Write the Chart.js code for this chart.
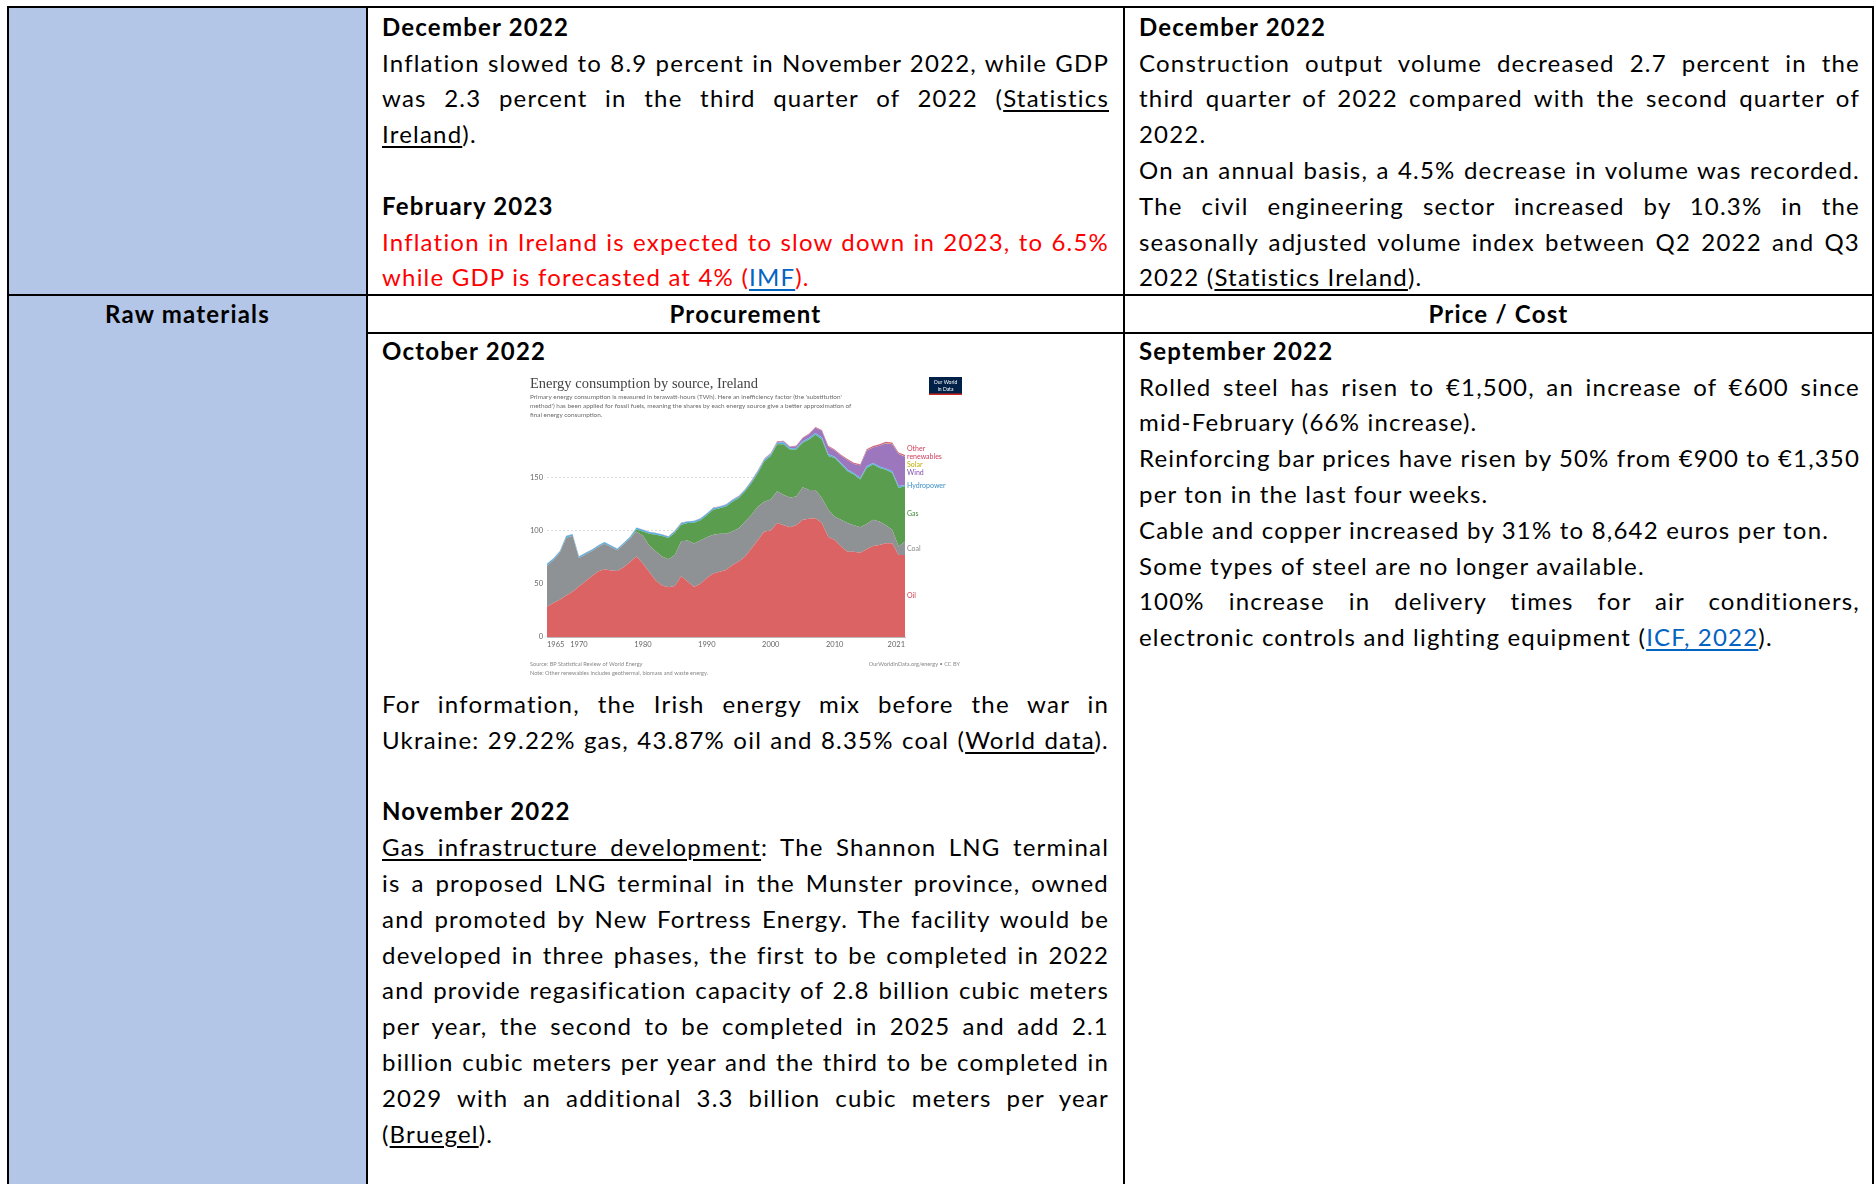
<!DOCTYPE html>
<html>
<head>
<meta charset="utf-8">
<script src="https://cdn.jsdelivr.net/npm/chart.js@4.4.0/dist/chart.umd.min.js"></script>
<style>
  body { margin: 0; width: 1876px; height: 1184px; overflow: hidden; background: #fff; font-family: Lato, 'Noto Sans', sans-serif; }
  .rule { position: absolute; background: #000; }
  .shade { position: absolute; background: #B4C6E7; }
  .block { position: absolute; font-size: 24px; line-height: 35.8px; letter-spacing: 1.2px; color: #000; }
  .ln { white-space: nowrap; height: 35.8px; }
  .c { text-align: center; }
  .b { font-weight: 700; }
  .u { text-decoration: underline; text-underline-offset: 3px; text-decoration-thickness: 1.5px; }
  .red { color: #FF0000; }
  .lk { color: #0563C1; text-decoration: underline; text-underline-offset: 3px; text-decoration-thickness: 1.5px; }
  #energy { position: absolute; left: 525px; top: 370px; }
</style>
</head>
<body>

<div class="shade" style="left:9px; top:8px; width:357px; height:1176px;"></div>

<!-- table rules -->
<div class="rule" style="left:7px; top:6px; width:1867px; height:2px;"></div>
<div class="rule" style="left:7px; top:6px; width:2px; height:1178px;"></div>
<div class="rule" style="left:366px; top:6px; width:2px; height:1178px;"></div>
<div class="rule" style="left:1123px; top:6px; width:2px; height:1178px;"></div>
<div class="rule" style="left:1872px; top:6px; width:2px; height:1178px;"></div>
<div class="rule" style="left:7px; top:294px; width:1867px; height:2px;"></div>
<div class="rule" style="left:366px; top:332px; width:1508px; height:2px;"></div>

<!-- row 1 -->
<div class="block" style="left:382px; top:8.8px; width:727px;">
  <div class="ln b"><span>December 2022</span></div>
  <div class="ln j"><span>Inflation slowed to 8.9 percent in November 2022, while GDP</span></div>
  <div class="ln j"><span>was 2.3 percent in the third quarter of 2022 (<span class="u">Statistics</span></span></div>
  <div class="ln"><span><span class="u">Ireland</span>).</span></div>
  <div class="ln"><span></span></div>
  <div class="ln b"><span>February 2023</span></div>
  <div class="ln j red"><span>Inflation in Ireland is expected to slow down in 2023, to 6.5%</span></div>
  <div class="ln red"><span>while GDP is forecasted at 4% (<span class="lk">IMF</span>).</span></div>
</div>

<div class="block" style="left:1139px; top:8.8px; width:721px;">
  <div class="ln b"><span>December 2022</span></div>
  <div class="ln j"><span>Construction output volume decreased 2.7 percent in the</span></div>
  <div class="ln j"><span>third quarter of 2022 compared with the second quarter of</span></div>
  <div class="ln"><span>2022.</span></div>
  <div class="ln j"><span>On an annual basis, a 4.5% decrease in volume was recorded.</span></div>
  <div class="ln j"><span>The civil engineering sector increased by 10.3% in the</span></div>
  <div class="ln j"><span>seasonally adjusted volume index between Q2 2022 and Q3</span></div>
  <div class="ln"><span>2022 (<span class="u">Statistics Ireland</span>).</span></div>
</div>

<!-- header row -->
<div class="block c b" style="left:9px; top:296.1px; width:357px;"><div class="ln"><span>Raw materials</span></div></div>
<div class="block c b" style="left:368px; top:296.1px; width:755px;"><div class="ln"><span>Procurement</span></div></div>
<div class="block c b" style="left:1125px; top:296.1px; width:747px;"><div class="ln"><span>Price / Cost</span></div></div>

<!-- row 3 -->
<div class="block" style="left:382px; top:332.8px; width:727px;">
  <div class="ln b"><span>October 2022</span></div>
  <div style="height:317.5px;"></div>
  <div class="ln j"><span>For information, the Irish energy mix before the war in</span></div>
  <div class="ln j"><span>Ukraine: 29.22% gas, 43.87% oil and 8.35% coal (<span class="u">World data</span>).</span></div>
  <div class="ln"><span></span></div>
  <div class="ln b"><span>November 2022</span></div>
  <div class="ln j"><span><span class="u">Gas infrastructure development</span>: The Shannon LNG terminal</span></div>
  <div class="ln j"><span>is a proposed LNG terminal in the Munster province, owned</span></div>
  <div class="ln j"><span>and promoted by New Fortress Energy. The facility would be</span></div>
  <div class="ln j"><span>developed in three phases, the first to be completed in 2022</span></div>
  <div class="ln j"><span>and provide regasification capacity of 2.8 billion cubic meters</span></div>
  <div class="ln j"><span>per year, the second to be completed in 2025 and add 2.1</span></div>
  <div class="ln j"><span>billion cubic meters per year and the third to be completed in</span></div>
  <div class="ln j"><span>2029 with an additional 3.3 billion cubic meters per year</span></div>
  <div class="ln"><span>(<span class="u">Bruegel</span>).</span></div>
</div>

<div class="block" style="left:1139px; top:332.8px; width:721px;">
  <div class="ln b"><span>September 2022</span></div>
  <div class="ln j"><span>Rolled steel has risen to €1,500, an increase of €600 since</span></div>
  <div class="ln"><span>mid-February (66% increase).</span></div>
  <div class="ln j"><span>Reinforcing bar prices have risen by 50% from €900 to €1,350</span></div>
  <div class="ln"><span>per ton in the last four weeks.</span></div>
  <div class="ln"><span>Cable and copper increased by 31% to 8,642 euros per ton.</span></div>
  <div class="ln"><span>Some types of steel are no longer available.</span></div>
  <div class="ln j"><span>100% increase in delivery times for air conditioners,</span></div>
  <div class="ln"><span>electronic controls and lighting equipment (<span class="lk">ICF, 2022</span>).</span></div>
</div>

<canvas id="energy" width="440" height="314"></canvas>

<script>
// Energy consumption by source, Ireland (TWh, substitution method), 1965-2021
const years = [1965, 1966, 1967, 1968, 1969, 1970, 1971, 1972, 1973, 1974,
               1975, 1976, 1977, 1978, 1979, 1980, 1981, 1982, 1983, 1984,
               1985, 1986, 1987, 1988, 1989, 1990, 1991, 1992, 1993, 1994,
               1995, 1996, 1997, 1998, 1999, 2000, 2001, 2002, 2003, 2004,
               2005, 2006, 2007, 2008, 2009, 2010, 2011, 2012, 2013, 2014,
               2015, 2016, 2017, 2018, 2019, 2020, 2021];
const oil = [28.5, 32, 35, 39, 42.5, 47.5, 52, 57, 61.5, 63.5,
             62.5, 62, 65.5, 70.5, 75.5, 69, 61, 53, 48.3, 46.7,
             48, 57, 52, 47, 50, 55.5, 59.7, 61.3, 63, 67.6,
             70.8, 75.5, 83.3, 91, 99, 100, 107, 105, 103, 105,
             110, 111, 111.6, 107, 94, 91, 85, 80, 80, 79,
             82.4, 85.5, 86.5, 88, 88, 77, 77];
const coal = [38.5, 40, 44, 54, 52.5, 26.5, 25.5, 23.5, 23, 24,
              22, 19.5, 21.5, 22, 23.5, 26, 25, 27.5, 27.2, 26.3,
              29, 33, 38.7, 40.7, 40.7, 38.2, 36.3, 35.7, 34, 31.4,
              31.2, 33, 31.5, 31.6, 28, 29, 29.8, 28.6, 28, 27,
              30.6, 27, 26.4, 23.5, 25.5, 22, 25, 27, 25, 24,
              23.6, 24.5, 22, 17, 12.6, 8, 12.6];
const gas = [0, 0, 0, 0, 0, 0, 0, 0, 0, 0,
             0, 0, 0, 0, 2, 4, 11, 15.5, 19.3, 20,
             21, 15.3, 16.3, 19.6, 19, 20.7, 23.5, 24, 25.6, 28,
             28.5, 28.3, 29.8, 31.4, 38, 41, 44.2, 47.4, 45, 44,
             41.8, 47.5, 52, 55, 50.5, 55, 52, 48.7, 47.5, 45,
             52.8, 52, 50.3, 52, 53.4, 55, 51.9];
const hydro = [1.8, 1.7, 1.6, 1.8, 1.5, 1.6, 1.4, 1.5, 1.4, 1.6,
               1.5, 1.3, 1.4, 1.6, 1.7, 1.8, 1.7, 1.6, 1.5, 1.4,
               1.6, 1.8, 1.5, 1.6, 1.5, 1.6, 1.7, 1.4, 1.6, 1.7,
               1.5, 1.6, 1.7, 1.8, 1.6, 1.7, 1.4, 1.8, 1.3, 1.5,
               1.4, 1.6, 1.5, 1.9, 1.8, 1.3, 1.4, 1.6, 1.3, 1.5,
               1.6, 1.4, 1.3, 1.3, 1.6, 1.8, 1.3];
const wind = [0, 0, 0, 0, 0, 0, 0, 0, 0, 0,
              0, 0, 0, 0, 0, 0, 0, 0, 0, 0,
              0, 0, 0, 0, 0, 0, 0, 0.05, 0.1, 0.1,
              0.2, 0.2, 0.3, 0.5, 0.6, 0.6, 0.8, 0.9, 1.0, 1.6,
              2.8, 3.2, 5.0, 6.0, 6.8, 5.8, 6.7, 8.7, 8.6, 11.6,
              14.6, 14.5, 19.5, 23.5, 25.5, 30, 26.5];
const solar = [0, 0, 0, 0, 0, 0, 0, 0, 0, 0,
               0, 0, 0, 0, 0, 0, 0, 0, 0, 0,
               0, 0, 0, 0, 0, 0, 0, 0, 0, 0,
               0, 0, 0, 0, 0, 0, 0, 0, 0, 0,
               0, 0, 0, 0, 0, 0, 0, 0, 0.01, 0.01,
               0.02, 0.03, 0.05, 0.06, 0.1, 0.15, 0.2];
const otherRenewables = [0.2, 0.2, 0.2, 0.2, 0.2, 0.2, 0.2, 0.2, 0.2, 0.2,
                         0.2, 0.2, 0.2, 0.2, 0.2, 0.2, 0.2, 0.2, 0.2, 0.2,
                         0.3, 0.3, 0.3, 0.3, 0.3, 0.3, 0.3, 0.3, 0.4, 0.4,
                         0.4, 0.4, 0.5, 0.5, 0.5, 0.5, 0.6, 0.6, 0.6, 0.7,
                         0.7, 0.8, 0.8, 0.9, 1.0, 1.0, 1.0, 1.1, 1.1, 1.2,
                         1.2, 1.3, 1.3, 1.4, 1.4, 1.3, 1.4];
const xTicks = [1965, 1970, 1980, 1990, 2000, 2010, 2021];
const yTicks = [0, 50, 100, 150];

const seriesNames = ['Oil', 'Coal', 'Gas', 'Hydropower', 'Wind', 'Solar', 'Other renewables'];
const fillColors = ['#DB6363', '#8F9295', '#5B9D4F', '#5AB0E0', '#9C77BE', '#E3CB1C', '#D4697C'];
const labelColors = ['#D6404F', '#8A8A8A', '#3F8A36', '#3D8FC6', '#7F4FAF', '#BFAE00', '#D0405E'];

function justifyLines() {
    document.querySelectorAll('.ln').forEach(function(line) {
        const inner = line.firstElementChild;
        if (!inner || !inner.textContent.length) return;
        line.style.letterSpacing = '';
        line.style.wordSpacing = '';
        const full = line.parentElement.clientWidth;
        let w = inner.getBoundingClientRect().width;
        if (w > full) {
            const base = parseFloat(getComputedStyle(line).letterSpacing) || 0;
            line.style.letterSpacing = (base + (full - w) / inner.textContent.length) + 'px';
            w = inner.getBoundingClientRect().width;
        }
        if (line.classList.contains('j')) {
            const spaces = (inner.textContent.match(/ /g) || []).length;
            if (spaces) line.style.wordSpacing = ((full - w) / spaces) + 'px';
        }
    });
}

// spread end labels: overlapping ones are grouped and centred on their natural positions
function spreadLabels(items) {
    let groups = items.slice().sort((a, b) => a.y - b.y).map(it => ({ items: [it], h: it.h }));
    const centre = g => g.items.reduce((s, it) => s + it.y, 0) / g.items.length;
    let merged = true;
    while (merged) {
        merged = false;
        for (let i = 0; i < groups.length - 1; i++) {
            const a = groups[i], b = groups[i + 1];
            if (centre(a) + a.h / 2 > centre(b) - b.h / 2) {
                groups.splice(i, 2, { items: a.items.concat(b.items), h: a.h + b.h });
                merged = true;
                break;
            }
        }
    }
    groups.forEach(function(g) {
        let top = centre(g) - g.h / 2;
        g.items.forEach(function(it) {
            it.top = top;
            top += it.h;
        });
    });
}

// Title, notes, logo and end-of-line labels drawn around the plot
const owidDecor = {
    id: 'owidDecor',
    afterDraw(chart) {
        const ctx = chart.ctx;
        const area = chart.chartArea;
        ctx.save();

        ctx.fillStyle = '#444';
        ctx.font = '14.5px "Liberation Serif", serif';
        ctx.textBaseline = 'alphabetic';
        ctx.fillText('Energy consumption by source, Ireland', 5, 18);

        ctx.fillStyle = '#6a6a6a';
        ctx.font = '6.4px Lato, sans-serif';
        ctx.fillText("Primary energy consumption is measured in terawatt-hours (TWh). Here an inefficiency factor (the 'substitution'", 5, 29, 375);
        ctx.fillText("method') has been applied for fossil fuels, meaning the shares by each energy source give a better approximation of", 5, 38, 388);
        ctx.fillText('final energy consumption.', 5, 47);

        // logo
        ctx.fillStyle = '#002147';
        ctx.fillRect(404, 7, 33, 18);
        ctx.fillStyle = '#CE261E';
        ctx.fillRect(404, 23.5, 33, 1.5);
        ctx.fillStyle = '#fff';
        ctx.font = '5px Lato, sans-serif';
        ctx.textAlign = 'center';
        ctx.fillText('Our World', 420.5, 14);
        ctx.fillText('in Data', 420.5, 20.5);

        // footer
        ctx.textAlign = 'left';
        ctx.fillStyle = '#888';
        ctx.font = '5.6px Lato, sans-serif';
        ctx.fillText('Source: BP Statistical Review of World Energy', 5, 296);
        ctx.fillText('Note: Other renewables includes geothermal, biomass and waste energy.', 5, 305);
        ctx.textAlign = 'right';
        ctx.fillText('OurWorldInData.org/energy • CC BY', 435, 296);

        // series labels at the right edge
        const lineH = 8;
        let prevTop = chart.scales.y.getPixelForValue(0);
        const items = chart.data.datasets.map(function(ds, i) {
            const meta = chart.getDatasetMeta(i);
            const top = meta.data[meta.data.length - 1].y;
            const mid = (top + prevTop) / 2;
            prevTop = top;
            const lines = ds.label === 'Other renewables' ? ['Other', 'renewables'] : [ds.label];
            return { y: mid, h: lines.length * lineH, lines: lines, color: labelColors[i] };
        });
        spreadLabels(items);
        ctx.textAlign = 'left';
        ctx.textBaseline = 'middle';
        ctx.font = '7px Lato, sans-serif';
        items.forEach(function(it) {
            ctx.fillStyle = it.color;
            it.lines.forEach(function(t, k) {
                ctx.fillText(t, area.right + 2, it.top + lineH / 2 + k * lineH);
            });
        });
        ctx.restore();
    }
};

function initEnergyChart() {
    const series = [oil, coal, gas, hydro, wind, solar, otherRenewables];
    const datasets = series.map(function(values, i) {
        return {
            label: seriesNames[i],
            data: values.map(function(v, k) { return { x: years[k], y: v }; }),
            backgroundColor: fillColors[i],
            borderColor: fillColors[i],
            borderWidth: 0,
            pointRadius: 0,
            tension: 0,
            fill: i === 0 ? 'origin' : '-1'
        };
    });

    new Chart(document.getElementById('energy'), {
        type: 'line',
        data: { datasets: datasets },
        options: {
            responsive: false,
            animation: false,
            devicePixelRatio: 1,
            layout: { padding: { left: 0, right: 60, top: 54, bottom: 33 } },
            plugins: { legend: { display: false }, tooltip: { enabled: false } },
            scales: {
                x: {
                    type: 'linear',
                    min: 1965,
                    max: 2021,
                    afterBuildTicks: function(scale) { scale.ticks = xTicks.map(v => ({ value: v })); },
                    afterFit: function(scale) { scale.height = 14; },
                    grid: { display: false, drawTicks: false, tickLength: 0 },
                    border: { display: true, color: '#bbb', width: 1 },
                    ticks: {
                        display: true,
                        align: 'inner',
                        autoSkip: false,
                        maxRotation: 0,
                        padding: 3,
                        color: '#666',
                        font: { family: 'Lato', size: 7.5 },
                        callback: function(value) { return String(value); }
                    }
                },
                y: {
                    stacked: true,
                    min: 0,
                    max: 200,
                    afterBuildTicks: function(scale) { scale.ticks = yTicks.map(v => ({ value: v })); },
                    afterFit: function(scale) { scale.width = 22; },
                    grid: { color: '#dddddd', lineWidth: 1, drawTicks: false },
                    border: { display: false, dash: [2, 2] },
                    ticks: {
                        padding: 4,
                        color: '#666',
                        font: { family: 'Lato', size: 7.5 },
                        callback: function(value) { return String(value); }
                    }
                }
            }
        },
        plugins: [owidDecor]
    });
}

document.addEventListener('DOMContentLoaded', function() {
    justifyLines();
    initEnergyChart();
    if (document.fonts && document.fonts.ready) {
        document.fonts.ready.then(justifyLines);
    }
});
</script>
</body>
</html>
